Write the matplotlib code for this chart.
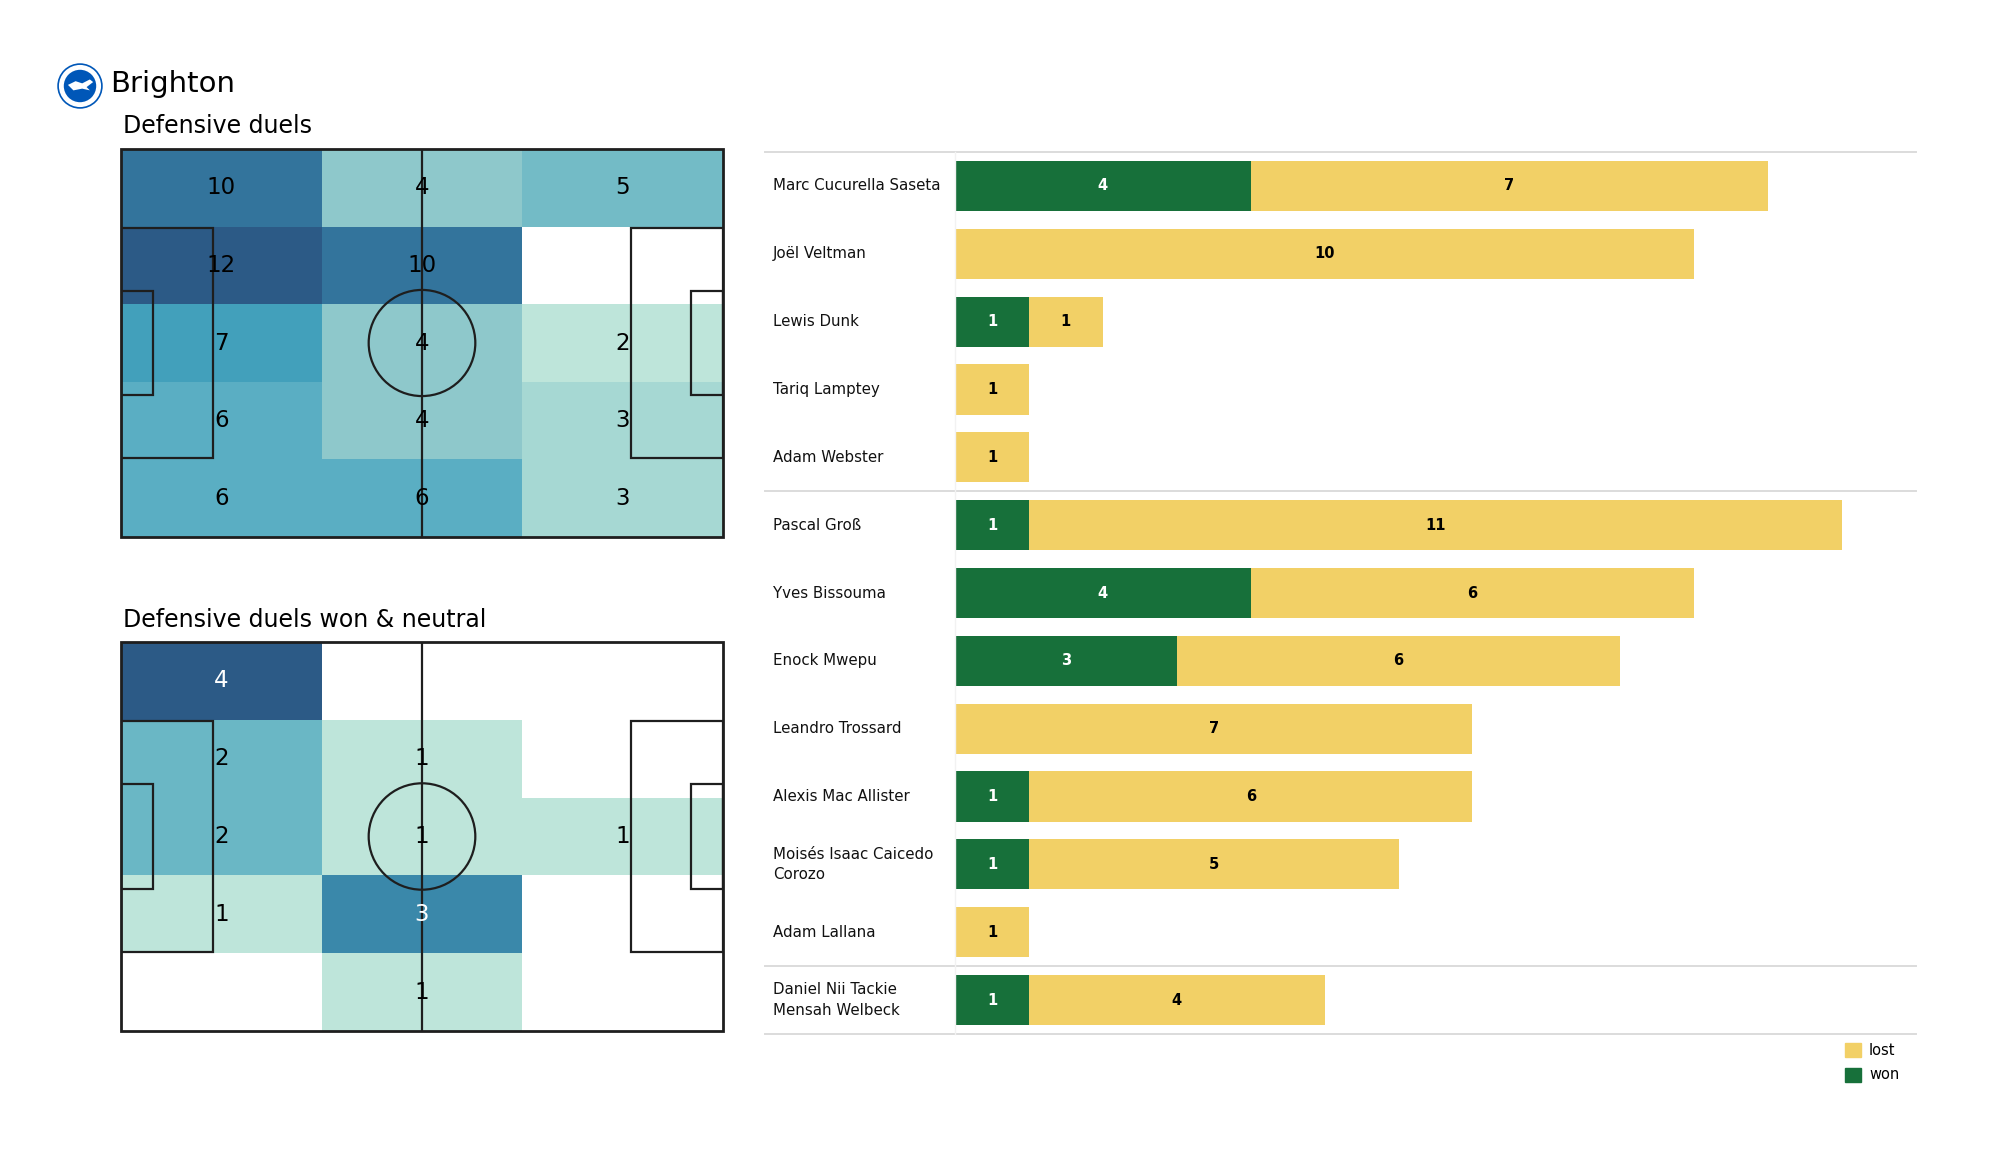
import numpy as np
import matplotlib
matplotlib.use("Agg")
import matplotlib.pyplot as plt
from matplotlib.colors import LinearSegmentedColormap, Normalize
from matplotlib.patches import Rectangle, Ellipse, Circle, Patch, Polygon

# ---------------- data ----------------
team = "Brighton"
heat_titles = ["Defensive duels", "Defensive duels won & neutral"]
heat_all = [[10, 4, 5],
            [12, 10, 0],
            [7, 4, 2],
            [6, 4, 3],
            [6, 6, 3]]
heat_won = [[4, 0, 0],
            [2, 1, 0],
            [2, 1, 1],
            [1, 3, 0],
            [0, 1, 0]]

players = ["Marc Cucurella Saseta", "Joël Veltman", "Lewis Dunk", "Tariq Lamptey",
           "Adam Webster", "Pascal Groß", "Yves Bissouma", "Enock Mwepu",
           "Leandro Trossard", "Alexis Mac Allister", "Moisés Isaac Caicedo\nCorozo",
           "Adam Lallana", "Daniel Nii Tackie\nMensah Welbeck"]
won = [4, 0, 1, 0, 0, 1, 4, 3, 0, 1, 1, 0, 1]
lost = [7, 10, 1, 1, 1, 11, 6, 6, 7, 6, 5, 1, 4]
group_breaks = [5, 12]   # separator after these many rows

# ---------------- style ----------------
W, H = 2000, 1175
fig = plt.figure(figsize=(W / 100, H / 100), dpi=100)
plt.rcParams['font.family'] = ['DejaVu Sans']

GREEN = "#17703a"
YELLOW = "#f2d066"
LINE = "#1e1e1e"
GRID = "#dcdcdc"

cmap = LinearSegmentedColormap.from_list(
    "duels",
    [(0.0, "#bee5da"), (0.1, "#a6d8d3"), (0.2, "#8ec8cb"), (0.3, "#72bbc6"),
     (0.4, "#5aaec3"), (0.5, "#42a0bb"), (0.8, "#33749c"), (1.0, "#2c5a86")])
cmap.set_bad("white")


def fax(x0, y0, x1, y1):
    """pixel box (top-left origin) -> figure axes"""
    return fig.add_axes([x0 / W, 1 - y1 / H, (x1 - x0) / W, (y1 - y0) / H])


def draw_pitch(ax, grid, white_thresh=None):
    L, Wd = 105.0, 68.0
    arr = np.array(grid, dtype=float)
    nz = arr[arr > 0]
    norm = Normalize(vmin=nz.min(), vmax=nz.max())
    masked = np.ma.masked_equal(arr, 0)
    nr, nc = arr.shape
    xe = np.linspace(0, L, nc + 1)
    ye = np.linspace(0, Wd, nr + 1)
    ax.pcolormesh(xe, ye, masked, cmap=cmap, norm=norm, shading="flat", zorder=1)
    for i in range(nr):
        for j in range(nc):
            v = arr[i, j]
            if v <= 0:
                continue
            col = "black"
            if white_thresh is not None and norm(v) >= white_thresh:
                col = "white"
            ax.text((xe[j] + xe[j + 1]) / 2, (ye[i] + ye[i + 1]) / 2, f"{int(v)}",
                    ha="center", va="center", fontsize=16.5, color=col, zorder=5)
    lw = 1.6
    ax.add_patch(Rectangle((0, 0), L, Wd, fill=False, ec=LINE, lw=2.0, zorder=4,
                           clip_on=False))
    ax.plot([L / 2, L / 2], [0, Wd], color=LINE, lw=lw, zorder=4)
    ax.add_patch(Ellipse((L / 2, Wd / 2), 18.6, 18.6, fill=False, ec=LINE, lw=lw, zorder=4))
    pa_w, pa_l = 40.32, 16.0
    sy_w, sy_l = 18.32, 5.5
    for x0, s in [(0, 1), (L, -1)]:
        ax.add_patch(Rectangle((x0 if s == 1 else x0 - pa_l, Wd / 2 - pa_w / 2), pa_l, pa_w,
                               fill=False, ec=LINE, lw=lw, zorder=4))
        ax.add_patch(Rectangle((x0 if s == 1 else x0 - sy_l, Wd / 2 - sy_w / 2), sy_l, sy_w,
                               fill=False, ec=LINE, lw=lw, zorder=4))
    ax.set_xlim(0, L)
    ax.set_ylim(Wd, 0)
    ax.axis("off")


# ---------------- logo + titles ----------------
lax = fax(57, 63, 103, 109)
lax.set_xlim(-1.05, 1.05)
lax.set_ylim(-1.05, 1.05)
lax.set_aspect("equal")
lax.axis("off")
lax.add_patch(Circle((0, 0), 1.0, fc="white", ec="#0057b8", lw=1.2))
lax.add_patch(Circle((0, 0), 0.74, fc="#0057b8", ec="none"))
lax.add_patch(Polygon([(-0.55, 0.05), (-0.2, 0.22), (0.1, 0.12), (0.45, 0.3), (0.6, 0.18),
                       (0.3, -0.05), (0.45, -0.2), (0.1, -0.12), (-0.3, -0.2)],
                      closed=True, fc="white", ec="none"))

fig.text(110 / W, 1 - 84 / H, team, fontsize=21, ha="left", va="center")
fig.text(123 / W, 1 - 126 / H, heat_titles[0], fontsize=17, ha="left", va="center")
fig.text(123 / W, 1 - 620 / H, heat_titles[1], fontsize=17, ha="left", va="center")

# ---------------- pitches ----------------
ax1 = fax(121, 149, 723, 537)
draw_pitch(ax1, heat_all)
ax2 = fax(121, 642, 723, 1031)
draw_pitch(ax2, heat_won, white_thresh=0.6)

# ---------------- bar chart ----------------
bx0, bx1, by0, by1 = 955, 1916, 152, 1034
bax = fax(bx0, by0, bx1, by1)
n = len(players)
y = np.arange(n)
won_a = np.array(won)
lost_a = np.array(lost)
bh = 0.74
bax.barh(y, won_a, height=bh, color=GREEN, zorder=2)
bax.barh(y, lost_a, left=won_a, height=bh, color=YELLOW, zorder=2)
for i in range(n):
    if won_a[i] > 0:
        bax.text(won_a[i] / 2, i, str(won_a[i]), ha="center", va="center",
                 fontsize=10.5, fontweight="bold", color="white", zorder=3)
    if lost_a[i] > 0:
        bax.text(won_a[i] + lost_a[i] / 2, i, str(lost_a[i]), ha="center", va="center",
                 fontsize=10.5, fontweight="bold", color="black", zorder=3)
bax.set_xlim(0, 13)
bax.set_ylim(n - 0.5, -0.5)
bax.set_xticks([])
bax.set_yticks([])
for s in ["top", "right", "bottom"]:
    bax.spines[s].set_visible(False)
bax.spines["left"].set_color("#f2f2f2")
bax.spines["left"].set_linewidth(1.0)

lab_x = (773 - bx0) / (bx1 - bx0)
line_x0 = (765 - bx0) / (bx1 - bx0)
trans = bax.get_yaxis_transform()
for i, name in enumerate(players):
    bax.text(lab_x, i, name, transform=trans, ha="left", va="center",
             fontsize=10.8, linespacing=1.45, color="#111111")
for yy in [-0.5] + [b - 0.5 for b in group_breaks] + [n - 0.5]:
    bax.plot([line_x0, 1.0], [yy, yy], transform=trans, color=GRID, lw=1.4,
             clip_on=False, zorder=1)

fig.legend(handles=[Patch(color=YELLOW, label="lost"), Patch(color=GREEN, label="won")],
           loc="upper left", bbox_to_anchor=(1845 / W, 1 - 1043 / H), frameon=False,
           fontsize=10.5, handlelength=1.1, handleheight=1.1, handletextpad=0.55,
           labelspacing=0.65, borderpad=0, borderaxespad=0)

fig.savefig("out.png", dpi=100, facecolor="white")
